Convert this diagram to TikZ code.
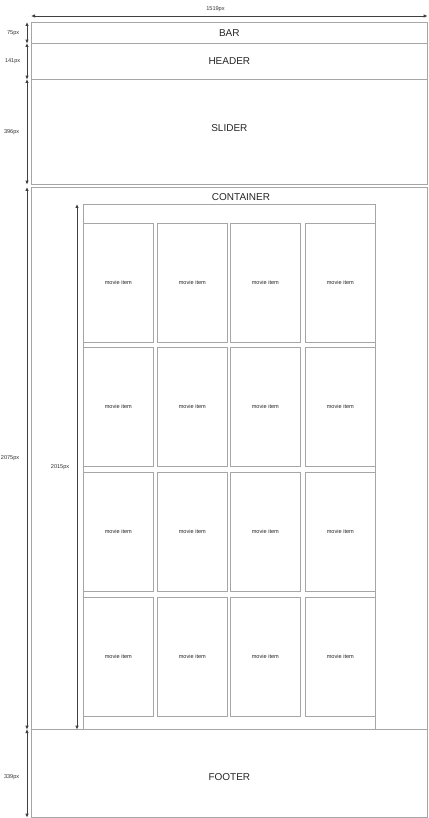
\documentclass[tikz,border=0pt]{standalone}
\usepackage{fontspec}
\setmainfont{Liberation Sans}
\usetikzlibrary{arrows.meta}
\begin{document}
\begin{tikzpicture}[x=1pt,y=-1pt,
			box/.style={draw=black!35,line width=0.7pt,inner sep=0pt,anchor=north west},
			item/.style={box,minimum width=70,minimum height=119,
				font=\fontsize{5.6}{7}\selectfont,text=black!85},
			dim/.style={draw=black!75,line width=0.8pt,
				{Latex[length=4pt,width=3.5pt]}-{Latex[length=4pt,width=3.5pt]}},
			size/.style={font=\fontsize{5.6}{7}\selectfont,text=black!80},
			title/.style={font=\fontsize{10}{12}\selectfont,text=black!85}]
\useasboundingbox (0,0) rectangle (428,818);
% page blocks
\node[box,title,minimum width=396,minimum height=21] (bar) at (31,22) {BAR};
\node[box,title,minimum width=396,minimum height=36] (header) at (31,43) {HEADER};
\node[box,minimum width=396,minimum height=105,
	label={[title,yshift=4]center:SLIDER}] (slider) at (31,79) {};
\node[box,minimum width=396,minimum height=542] (cont) at (31,187) {};
\node[title] (conttitle) at (241,197) {CONTAINER};
\node[box,minimum width=396,minimum height=88,
	label={[title,yshift=-4]center:FOOTER}] (footer) at (31,729) {};
% grid of movies
\node[box,minimum width=292,minimum height=525] (grid) at (83,204) {};
\foreach \x [count=\c] in {83,157,230,305}
	\foreach \y [count=\r] in {223,347,472,597}
		\node[item] (m\r\c) at (\x,\y) {movie item};
% sizes
\draw[dim] ([yshift=6]bar.north west) -- node[size,above=1pt,pos=0.465]{1519px} ([yshift=6]bar.north east);
\draw[dim] ([xshift=-4]bar.north west) -- node[size,left=4pt]{75px} ([xshift=-4]bar.south west);
\draw[dim] ([xshift=-4]header.north west) -- node[size,left=3pt]{141px} ([xshift=-4]header.south west);
\draw[dim] ([xshift=-4]slider.north west) -- node[size,left=4pt]{396px} ([xshift=-4]slider.south west);
\draw[dim] ([xshift=-4]cont.north west) -- node[size,left=4pt]{2075px} ([xshift=-4]cont.south west);
\draw[dim] ([xshift=-6]grid.north west) -- node[size,left=4pt]{2015px} ([xshift=-6]grid.south west);
\draw[dim] ([xshift=-4]footer.north west) -- node[size,left=4pt,yshift=-4]{339px} ([xshift=-4]footer.south west);
\end{tikzpicture}
\end{document}
